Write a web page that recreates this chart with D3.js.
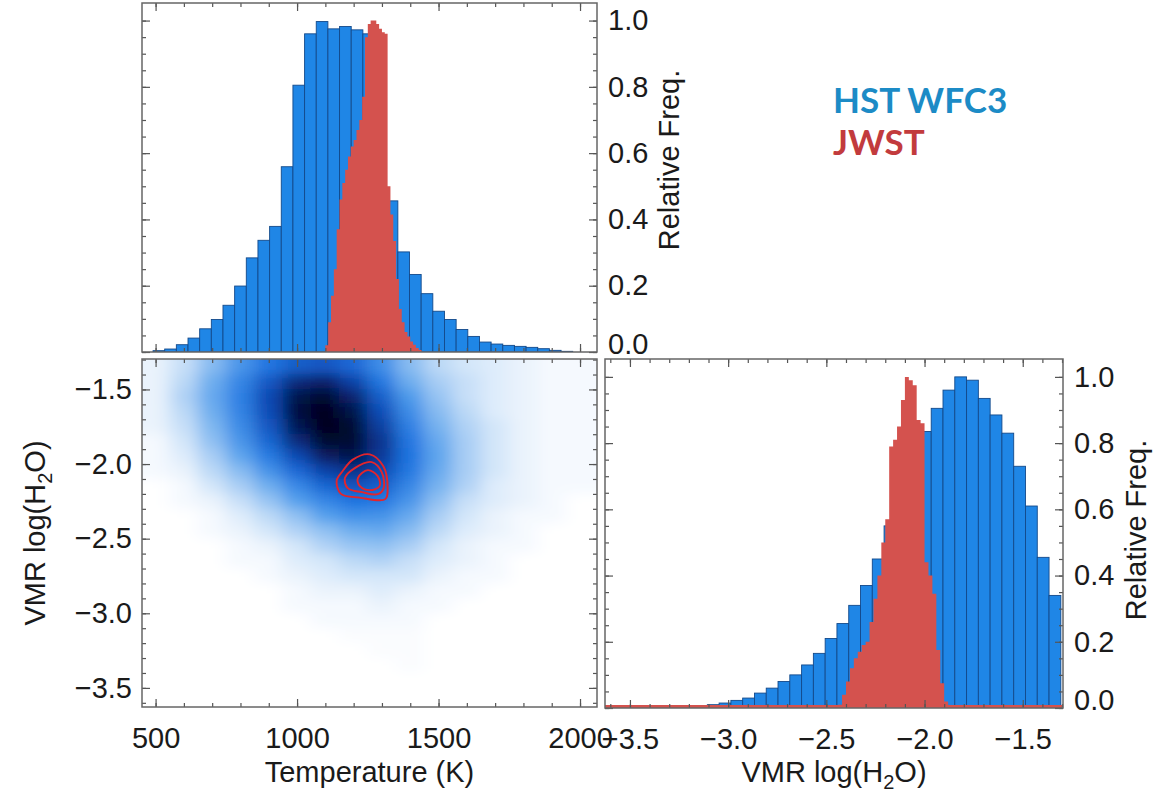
<!DOCTYPE html>
<html>
<head>
<meta charset="utf-8">
<script src="https://cdn.jsdelivr.net/npm/d3@7"></script>
<style>
  body { margin: 0; background: #fff; }
  svg { display: block; font-family: 'Liberation Sans', Arial, sans-serif; }
</style>
</head>
<body>
<script>

// Axis ticks ----------------------
const tempTicks = [500, 1000, 1500, 2000];
const tempMinorTicks = d3.range(500, 2001, 100);
const vmrTicks = [-3.5, -3.0, -2.5, -2.0, -1.5];
const vmrMinorTicks = d3.range(-36, -12).map(d => d / 10);
const freqTicks = [0, 0.2, 0.4, 0.6, 0.8, 1.0];
const freqMinorTicks = d3.range(0, 21).map(d => d / 20);

// Legend
const legendLabels = ['HST WFC3', 'JWST'];

// Temperature histograms (relative freq.) ---
const hstTempStart = 491;
const hstTempWidth = 41.2;
const hstTempFreq = [0.004, 0.009, 0.022, 0.042, 0.07, 0.098, 0.141, 0.199, 0.284, 0.337,
  0.379, 0.559, 0.805, 0.96, 0.997, 0.975, 0.982, 0.972, 0.96, 0.9,
  0.456, 0.302, 0.234, 0.176, 0.123, 0.098, 0.068, 0.047, 0.030, 0.024,
  0.020, 0.017, 0.014, 0.010, 0.005, 0.002];

const jwstTempStart = 1100;
const jwstTempWidth = 10;
const jwstTempFreq = [0.02, 0.09, 0.17, 0.25, 0.37, 0.46, 0.51, 0.55, 0.59, 0.62,
  0.64, 0.67, 0.70, 0.77, 0.95, 0.99, 1.0, 1.0, 0.99, 0.975,
  0.965, 0.96, 0.5, 0.415, 0.335, 0.22, 0.13, 0.09, 0.06, 0.047,
  0.032, 0.022, 0.012, 0.005];

// VMR log(H2O) histograms ---------
const hstVmrStart = -3.646;
const hstVmrWidth = 0.06;
const hstVmrFreq = [0, 0, 0, 0, 0, 0, 0.002, 0.003, 0.005, 0.01,
  0.015, 0.023, 0.03, 0.045, 0.06, 0.08, 0.10, 0.13, 0.165, 0.21,
  0.255, 0.31, 0.37, 0.45, 0.55, 0.65, 0.75, 0.835, 0.905, 0.96,
  1.0, 0.99, 0.935, 0.885, 0.83, 0.73, 0.61, 0.455, 0.34];

const jwstVmrStart = -2.44;
const jwstVmrWidth = 0.02;
const jwstVmrFreq = [0.01, 0.04, 0.08, 0.12, 0.15, 0.17, 0.19, 0.20, 0.26, 0.33,
  0.40, 0.50, 0.57, 0.79, 0.81, 0.85, 0.93, 1.0, 0.99, 0.975,
  0.87, 0.86, 0.44, 0.40, 0.345, 0.175, 0.075, 0.02, 0.005];

// HST 2D density (rows = VMR, cols = temperature) ---
const densityTemps = [500, 600, 700, 800, 900, 1000, 1100, 1200, 1300, 1400, 1500, 1600, 1700, 1800, 1900, 2000];
const densityVmrs = [-1.35, -1.45, -1.55, -1.65, -1.75, -1.85, -1.95, -2.05, -2.15, -2.25, -2.35, -2.45,
  -2.55, -2.65, -2.75, -2.85, -2.95, -3.05, -3.15, -3.25, -3.35, -3.45, -3.55];
const hstDensity = [
  [0.02, 0.05, 0.12, 0.22, 0.34, 0.45, 0.48, 0.40, 0.25, 0.12, 0.06, 0.04, 0.03, 0.02, 0.01, 0.01],
  [0.02, 0.06, 0.15, 0.28, 0.47, 0.72, 0.78, 0.58, 0.33, 0.15, 0.08, 0.05, 0.03, 0.02, 0.01, 0.01],
  [0.02, 0.07, 0.16, 0.30, 0.54, 0.86, 0.95, 0.76, 0.44, 0.20, 0.10, 0.05, 0.03, 0.02, 0.01, 0.01],
  [0.02, 0.06, 0.15, 0.29, 0.53, 0.90, 1.00, 0.87, 0.52, 0.25, 0.12, 0.06, 0.03, 0.02, 0.01, 0.01],
  [0.02, 0.05, 0.13, 0.26, 0.48, 0.84, 1.00, 0.94, 0.60, 0.30, 0.14, 0.07, 0.04, 0.02, 0.01, 0.01],
  [0.01, 0.04, 0.11, 0.22, 0.41, 0.72, 0.95, 0.94, 0.66, 0.34, 0.16, 0.08, 0.04, 0.02, 0.01, 0.01],
  [0.01, 0.03, 0.08, 0.17, 0.32, 0.55, 0.80, 0.86, 0.63, 0.35, 0.17, 0.08, 0.04, 0.02, 0.01, 0.01],
  [0.01, 0.02, 0.06, 0.12, 0.23, 0.40, 0.58, 0.68, 0.55, 0.33, 0.16, 0.08, 0.04, 0.02, 0.01, 0.01],
  [0.00, 0.01, 0.04, 0.08, 0.15, 0.27, 0.41, 0.50, 0.44, 0.28, 0.14, 0.07, 0.03, 0.02, 0.01, 0.01],
  [0.00, 0.01, 0.02, 0.05, 0.10, 0.18, 0.28, 0.35, 0.33, 0.22, 0.11, 0.05, 0.03, 0.02, 0.01, 0.00],
  [0.00, 0.00, 0.01, 0.03, 0.06, 0.11, 0.18, 0.24, 0.23, 0.16, 0.08, 0.04, 0.02, 0.01, 0.01, 0.00],
  [0.00, 0.00, 0.01, 0.02, 0.04, 0.07, 0.11, 0.15, 0.16, 0.12, 0.06, 0.03, 0.02, 0.01, 0.00, 0.00],
  [0.00, 0.00, 0.00, 0.01, 0.02, 0.04, 0.07, 0.10, 0.11, 0.08, 0.04, 0.02, 0.01, 0.01, 0.00, 0.00],
  [0.00, 0.00, 0.00, 0.01, 0.01, 0.03, 0.04, 0.06, 0.07, 0.05, 0.03, 0.02, 0.01, 0.00, 0.00, 0.00],
  [0.00, 0.00, 0.00, 0.00, 0.01, 0.02, 0.03, 0.04, 0.04, 0.04, 0.02, 0.01, 0.01, 0.00, 0.00, 0.00],
  [0.00, 0.00, 0.00, 0.00, 0.00, 0.01, 0.02, 0.02, 0.03, 0.02, 0.01, 0.01, 0.00, 0.00, 0.00, 0.00],
  [0.00, 0.00, 0.00, 0.00, 0.00, 0.01, 0.01, 0.01, 0.02, 0.01, 0.01, 0.00, 0.00, 0.00, 0.00, 0.00],
  [0.00, 0.00, 0.00, 0.00, 0.00, 0.00, 0.01, 0.01, 0.01, 0.01, 0.00, 0.00, 0.00, 0.00, 0.00, 0.00],
  [0.00, 0.00, 0.00, 0.00, 0.00, 0.00, 0.00, 0.005, 0.005, 0.005, 0.00, 0.00, 0.00, 0.00, 0.00, 0.00],
  [0.00, 0.00, 0.00, 0.00, 0.00, 0.00, 0.00, 0.00, 0.005, 0.005, 0.00, 0.00, 0.00, 0.00, 0.00, 0.00],
  [0.00, 0.00, 0.00, 0.00, 0.00, 0.00, 0.00, 0.00, 0.00, 0.005, 0.00, 0.00, 0.00, 0.00, 0.00, 0.00],
  [0.00, 0.00, 0.00, 0.00, 0.00, 0.00, 0.00, 0.00, 0.00, 0.00, 0.00, 0.00, 0.00, 0.00, 0.00, 0.00],
  [0.00, 0.00, 0.00, 0.00, 0.00, 0.00, 0.00, 0.00, 0.00, 0.00, 0.00, 0.00, 0.00, 0.00, 0.00, 0.00]
];

// JWST contours, [temperature, VMR] points
const jwstContours = [
  [[1257, -1.935], [1305, -2.015], [1320, -2.155], [1312, -2.235], [1222, -2.225], [1155, -2.2], [1140, -2.11], [1160, -2.05], [1197, -1.97]],
  [[1264, -1.987], [1299, -2.054], [1306, -2.161], [1285, -2.202], [1229, -2.188], [1179, -2.161], [1169, -2.094], [1204, -2.027]],
  [[1250, -2.041], [1285, -2.081], [1292, -2.148], [1257, -2.175], [1222, -2.148], [1215, -2.094]]
];

// Run when the page DOM has been loaded
document.addEventListener('DOMContentLoaded', () => {
  drawFigure();
});

const hstFill = '#1f86e6';
const hstEdge = '#13498a';
const jwstFill = '#d4524e';
const frameColor = '#666';
const fontSize = 29;

const fmt = d => d.toFixed(1).replace('-', '\u2212');

// Bin list from start, width and values
const toBins = (start, width, values) => values.map((v, i) => ({x0: start + i * width, x1: start + (i + 1) * width, v: v}));

// Step outline for a fine histogram
const toSteps = (start, width, values) => {
  const pts = values.map((v, i) => ({x: start + i * width, v: v}));
  pts.push({x: start + values.length * width, v: values[values.length - 1]});
  return pts;
};

const drawFigure = () => {

  const topBox = {x0: 142, x1: 597, y0: 3, y1: 352};
  const mapBox = {x0: 142, x1: 597, y0: 359, y1: 707};
  const sideBox = {x0: 605, x1: 1063, y0: 359, y1: 708};

  // Scales ------------------------
  const xTemp = d3.scaleLinear().domain([452, 2060]).range([mapBox.x0, mapBox.x1]);
  const yTopFreq = d3.scaleLinear().domain([0, 1.053]).range([topBox.y1, topBox.y0]);
  const yVmr = d3.scaleLinear().domain([-3.628, -1.296]).range([mapBox.y1, mapBox.y0]);
  const xVmr = d3.scaleLinear().domain([-3.627, -1.295]).range([sideBox.x0, sideBox.x1]);
  const ySideFreq = d3.scaleLinear().domain([0, 1.054]).range([sideBox.y1, sideBox.y0]);

  const svg = d3.select('body')
        .append('svg')
        .attr('width', 1166)
        .attr('height', 806);

  const defs = svg.append('defs');
  [['clip-top', topBox], ['clip-map', mapBox], ['clip-side', sideBox]].forEach(([id, b]) => {
    defs.append('clipPath').attr('id', id)
      .append('rect')
      .attr('x', b.x0).attr('y', b.y0)
      .attr('width', b.x1 - b.x0).attr('height', b.y1 - b.y0);
  });

  // blur the density cells
  defs.append('filter').attr('id', 'soften')
    .attr('filterUnits', 'userSpaceOnUse')
    .attr('x', 80).attr('y', 300).attr('width', 580).attr('height', 470)
    .append('feGaussianBlur')
    .attr('stdDeviation', '9 6');

  // Top histogram: temperature ---
  const topG = svg.append('g').attr('clip-path', 'url(#clip-top)');

  topG.append('g')
    .selectAll('rect')
    .data(toBins(hstTempStart, hstTempWidth, hstTempFreq))
    .enter()
    .append('rect')
    .attr('x', d => xTemp(d.x0))
    .attr('width', d => xTemp(d.x1) - xTemp(d.x0))
    .attr('y', d => yTopFreq(d.v))
    .attr('height', d => yTopFreq(0) - yTopFreq(d.v))
    .attr('fill', hstFill)
    .attr('stroke', hstEdge)
    .attr('stroke-width', 0.9);

  const topArea = d3.area()
        .curve(d3.curveStepAfter)
        .x(d => xTemp(d.x))
        .y0(yTopFreq(0) + 2)
        .y1(d => Math.min(yTopFreq(d.v), yTopFreq(0) - 2));

  topG.append('path')
    .datum(toSteps(jwstTempStart, jwstTempWidth, jwstTempFreq))
    .attr('d', topArea)
    .attr('fill', jwstFill);

  // 2D density map -----------------
  const densityColor = d3.scaleLinear()
        .domain([0, 0.02, 0.07, 0.18, 0.35, 0.55, 0.75, 0.9, 1])
        .range(['#ffffff', '#eaf3fc', '#b0d2f5', '#55a0ec', '#1d73e0', '#0f48b2', '#082372', '#040f3d', '#02061f'])
        .clamp(true);

  const cells = [];
  hstDensity.forEach((row, r) => {
    row.forEach((v, c) => {
      cells.push({t: densityTemps[c], m: densityVmrs[r], r: r, c: c, v: v});
    });
  });

  const lastRow = densityVmrs.length - 1;
  const lastCol = densityTemps.length - 1;

  svg.append('g')
    .attr('clip-path', 'url(#clip-map)')
    .append('g')
    .attr('filter', 'url(#soften)')
    .selectAll('rect')
    .data(cells)
    .enter()
    .append('rect')
    .attr('x', d => xTemp(d.t - 50) - (d.c === 0 ? 30 : 0.5))
    .attr('y', d => yVmr(d.m + 0.05) - (d.r === 0 ? 30 : 0.5))
    .attr('width', d => xTemp(d.t + 50) - xTemp(d.t - 50) + (d.c === 0 || d.c === lastCol ? 30 : 1))
    .attr('height', d => yVmr(d.m - 0.05) - yVmr(d.m + 0.05) + (d.r === 0 || d.r === lastRow ? 30 : 1))
    .attr('fill', d => densityColor(d.v));

  const contourLine = d3.line()
        .x(d => xTemp(d[0]))
        .y(d => yVmr(d[1]))
        .curve(d3.curveCatmullRomClosed.alpha(0.5));

  svg.append('g')
    .attr('clip-path', 'url(#clip-map)')
    .selectAll('path')
    .data(jwstContours)
    .enter()
    .append('path')
    .attr('d', contourLine)
    .attr('fill', 'none')
    .attr('stroke', '#e3252c')
    .attr('stroke-width', 1.9);

  // Side histogram: VMR ------------
  const sideG = svg.append('g').attr('clip-path', 'url(#clip-side)');

  sideG.append('g')
    .selectAll('rect')
    .data(toBins(hstVmrStart, hstVmrWidth, hstVmrFreq))
    .enter()
    .append('rect')
    .attr('x', d => xVmr(d.x0))
    .attr('width', d => xVmr(d.x1) - xVmr(d.x0))
    .attr('y', d => ySideFreq(d.v))
    .attr('height', d => ySideFreq(0) - ySideFreq(d.v))
    .attr('fill', hstFill)
    .attr('stroke', hstEdge)
    .attr('stroke-width', 0.9);

  const sideArea = d3.area()
        .curve(d3.curveStepAfter)
        .x(d => xVmr(d.x))
        .y0(ySideFreq(0) + 2)
        .y1(d => Math.min(ySideFreq(d.v), ySideFreq(0) - 2));

  sideG.append('path')
    .datum(toSteps(jwstVmrStart, jwstVmrWidth, jwstVmrFreq))
    .attr('d', sideArea)
    .attr('fill', jwstFill);

  // JWST baseline runs along the whole VMR range
  sideG.append('line')
    .attr('x1', sideBox.x0).attr('x2', sideBox.x1)
    .attr('y1', ySideFreq(0) - 1.5).attr('y2', ySideFreq(0) - 1.5)
    .attr('stroke', jwstFill)
    .attr('stroke-width', 3);

  // Axes -------------------------
  const styleAxis = g => {
    g.select('.domain').remove();
    g.attr('color', '#555')
      .attr('font-size', fontSize)
      .attr('font-family', "'Liberation Sans', Arial, sans-serif");
    g.selectAll('line').attr('stroke-width', 1.2);
    g.selectAll('text').attr('fill', '#1a1a1a');
  };

  // ticks on all four sides of a box, inward
  const boxTicks = (box, xScale, xMajor, xMinor, yScale, yMajor, yMinor) => {
    const sides = [
      {axis: d3.axisTop, scale: xScale, t: `translate(0,${box.y0})`, major: xMajor, minor: xMinor},
      {axis: d3.axisBottom, scale: xScale, t: `translate(0,${box.y1})`, major: xMajor, minor: xMinor},
      {axis: d3.axisLeft, scale: yScale, t: `translate(${box.x0},0)`, major: yMajor, minor: yMinor},
      {axis: d3.axisRight, scale: yScale, t: `translate(${box.x1},0)`, major: yMajor, minor: yMinor}
    ];
    sides.forEach(s => {
      svg.append('g').attr('transform', s.t)
        .call(s.axis(s.scale).tickValues(s.minor).tickSize(-4).tickFormat(''))
        .call(styleAxis);
      svg.append('g').attr('transform', s.t)
        .call(s.axis(s.scale).tickValues(s.major).tickSize(-8).tickFormat(''))
        .call(styleAxis);
    });
  };

  boxTicks(topBox, xTemp, tempTicks, tempMinorTicks, yTopFreq, freqTicks, freqMinorTicks);
  boxTicks(mapBox, xTemp, tempTicks, tempMinorTicks, yVmr, vmrTicks, vmrMinorTicks);
  boxTicks(sideBox, xVmr, vmrTicks, vmrMinorTicks, ySideFreq, freqTicks, freqMinorTicks);

  // Tick labels
  svg.append('g')
    .attr('transform', `translate(0,${mapBox.y1})`)
    .call(d3.axisBottom(xTemp).tickValues(tempTicks).tickSize(0).tickPadding(20).tickFormat(d3.format('d')))
    .call(styleAxis);

  svg.append('g')
    .attr('transform', `translate(${mapBox.x0},0)`)
    .call(d3.axisLeft(yVmr).tickValues(vmrTicks).tickSize(0).tickPadding(10).tickFormat(fmt))
    .call(styleAxis);

  svg.append('g')
    .attr('transform', `translate(0,${sideBox.y1})`)
    .call(d3.axisBottom(xVmr).tickValues(vmrTicks).tickSize(0).tickPadding(20).tickFormat(fmt))
    .call(styleAxis);

  [[topBox, yTopFreq], [sideBox, ySideFreq]].forEach(([box, yScale]) => {
    svg.append('g')
      .attr('transform', `translate(${box.x1},0)`)
      .call(d3.axisRight(yScale).tickValues(freqTicks).tickSize(0).tickPadding(11).tickFormat(fmt))
      .call(styleAxis)
      .call(g => g.selectAll('.tick text').filter(d => d === 0).attr('y', -8));
  });

  // Frames ------------------------
  [topBox, mapBox, sideBox].forEach(b => {
    svg.append('rect')
      .attr('x', b.x0).attr('y', b.y0)
      .attr('width', b.x1 - b.x0).attr('height', b.y1 - b.y0)
      .attr('fill', 'none')
      .attr('stroke', frameColor)
      .attr('stroke-width', 1.5);
  });

  // Axis titles -------------------
  const titles = svg.append('g')
        .attr('font-size', fontSize)
        .attr('fill', '#1a1a1a');

  titles.append('text')
    .attr('x', (mapBox.x0 + mapBox.x1) / 2)
    .attr('y', 782)
    .attr('text-anchor', 'middle')
    .text('Temperature (K)');

  const h2oLabel = (sel) => {
    sel.append('tspan').text('VMR log(H');
    sel.append('tspan').attr('font-size', 20).attr('dy', 7).text('2');
    sel.append('tspan').attr('dy', -7).text('O)');
  };

  titles.append('text')
    .attr('x', (sideBox.x0 + sideBox.x1) / 2)
    .attr('y', 782)
    .attr('text-anchor', 'middle')
    .call(h2oLabel);

  titles.append('text')
    .attr('transform', `translate(45,${(mapBox.y0 + mapBox.y1) / 2}) rotate(-90)`)
    .attr('text-anchor', 'middle')
    .call(h2oLabel);

  titles.append('text')
    .attr('transform', `translate(${topBox.x1 + 82},160) rotate(-90)`)
    .attr('text-anchor', 'middle')
    .text('Relative Freq.');

  titles.append('text')
    .attr('transform', `translate(${sideBox.x1 + 83},530) rotate(-90)`)
    .attr('text-anchor', 'middle')
    .text('Relative Freq.');

  // Legend ------------------------
  svg.append('g')
    .attr('font-family', 'Lato, sans-serif')
    .attr('font-weight', 700)
    .attr('font-size', 35)
    .selectAll('text')
    .data(legendLabels)
    .enter()
    .append('text')
    .attr('x', 833)
    .attr('y', (d, i) => 113 + i * 42)
    .attr('fill', (d, i) => i === 0 ? '#1c8bc6' : '#c23b3d')
    .text(d => d);
}

</script>
</body>
</html>
